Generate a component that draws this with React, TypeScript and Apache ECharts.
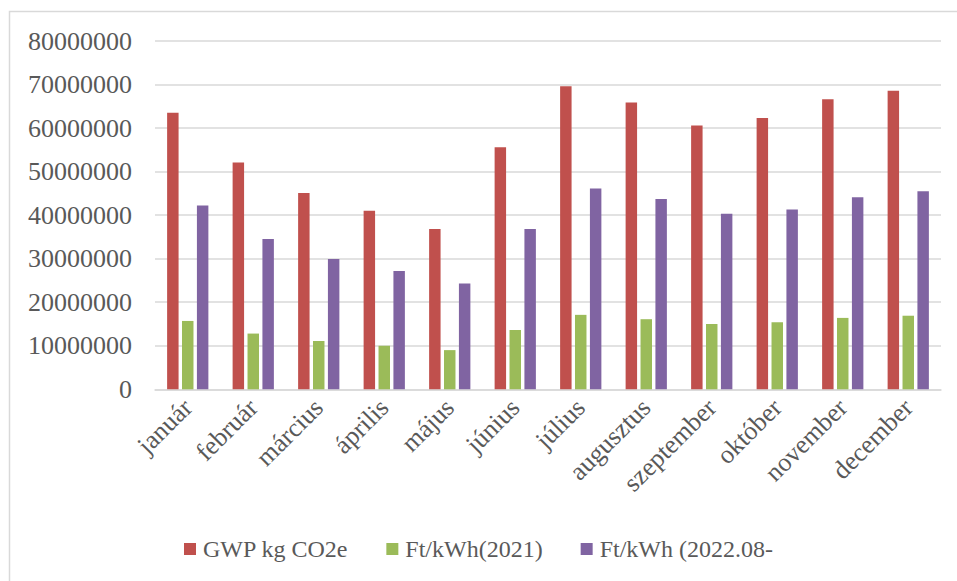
import React, { useEffect, useRef } from "react";
import * as echarts from "echarts";

const categories = ["január", "február", "március", "április", "május", "június", "július", "augusztus", "szeptember", "október", "november", "december"];
const seriesNames = ["GWP kg CO2e", "Ft/kWh(2021)", "Ft/kWh (2022.08-"];
const gwp = [63500000, 52100000, 45100000, 41000000, 36800000, 55600000, 69600000, 65900000, 60600000, 62300000, 66600000, 68600000];
const ft2021 = [15700000, 12800000, 11100000, 10000000, 9000000, 13600000, 17100000, 16100000, 15000000, 15400000, 16400000, 16900000];
const ft2022 = [42200000, 34500000, 29900000, 27200000, 24300000, 36800000, 46100000, 43700000, 40300000, 41300000, 44100000, 45500000];
const colors = ["#C0504D", "#9BBB59", "#8064A2"];

const FONT = "'Liberation Serif', 'Times New Roman', serif";

export default function App() {
  const ref = useRef<HTMLDivElement>(null);
  useEffect(() => {
    if (!ref.current) return;
    const chart = echarts.init(ref.current, null, { renderer: "svg" });
    const mk = (name: string, data: number[], color: string) => ({
      name,
      type: "bar",
      data,
      barWidth: "17.5%",
      barGap: "30%",
      itemStyle: { color },
    });
    chart.setOption({
      animation: false,
      backgroundColor: "#ffffff",
      textStyle: { fontFamily: FONT },
      graphic: [
        {
          type: "rect",
          shape: { x: 9.5, y: 11.5, width: 1000, height: 1000 },
          style: { fill: "none", stroke: "#d9d9d9", lineWidth: 1.5 },
          silent: true,
        },
      ],
      legend: {
        bottom: 15,
        left: "center",
        itemWidth: 12,
        itemHeight: 12,
        itemGap: 38,
        icon: "rect",
        textStyle: { fontFamily: FONT, fontSize: 24, color: "#595959", padding: [0, 0, 0, 2] },
        data: seriesNames,
      },
      grid: { left: 155, right: 16, top: 41, bottom: 191.7, containLabel: false },
      xAxis: {
        type: "category",
        data: categories,
        axisLine: { lineStyle: { color: "#d9d9d9", width: 1.5 } },
        axisTick: { show: false },
        axisLabel: {
          rotate: 45,
          interval: 0,
          margin: 14,
          fontFamily: FONT,
          fontSize: 26,
          color: "#595959",
        },
      },
      yAxis: {
        type: "value",
        min: 0,
        max: 80000000,
        interval: 10000000,
        axisLine: { show: false },
        axisTick: { show: false },
        splitLine: { lineStyle: { color: "#d9d9d9", width: 1.5 } },
        axisLabel: {
          margin: 23,
          fontFamily: FONT,
          fontSize: 26,
          color: "#595959",
          formatter: (v: number) => String(v),
        },
      },
      series: [mk(seriesNames[0], gwp, colors[0]), mk(seriesNames[1], ft2021, colors[1]), mk(seriesNames[2], ft2022, colors[2])],
    });
    return () => chart.dispose();
  }, []);
  return <div ref={ref} style={{ position: "absolute", left: 0, top: 0, width: 957, height: 581 }} />;
}
